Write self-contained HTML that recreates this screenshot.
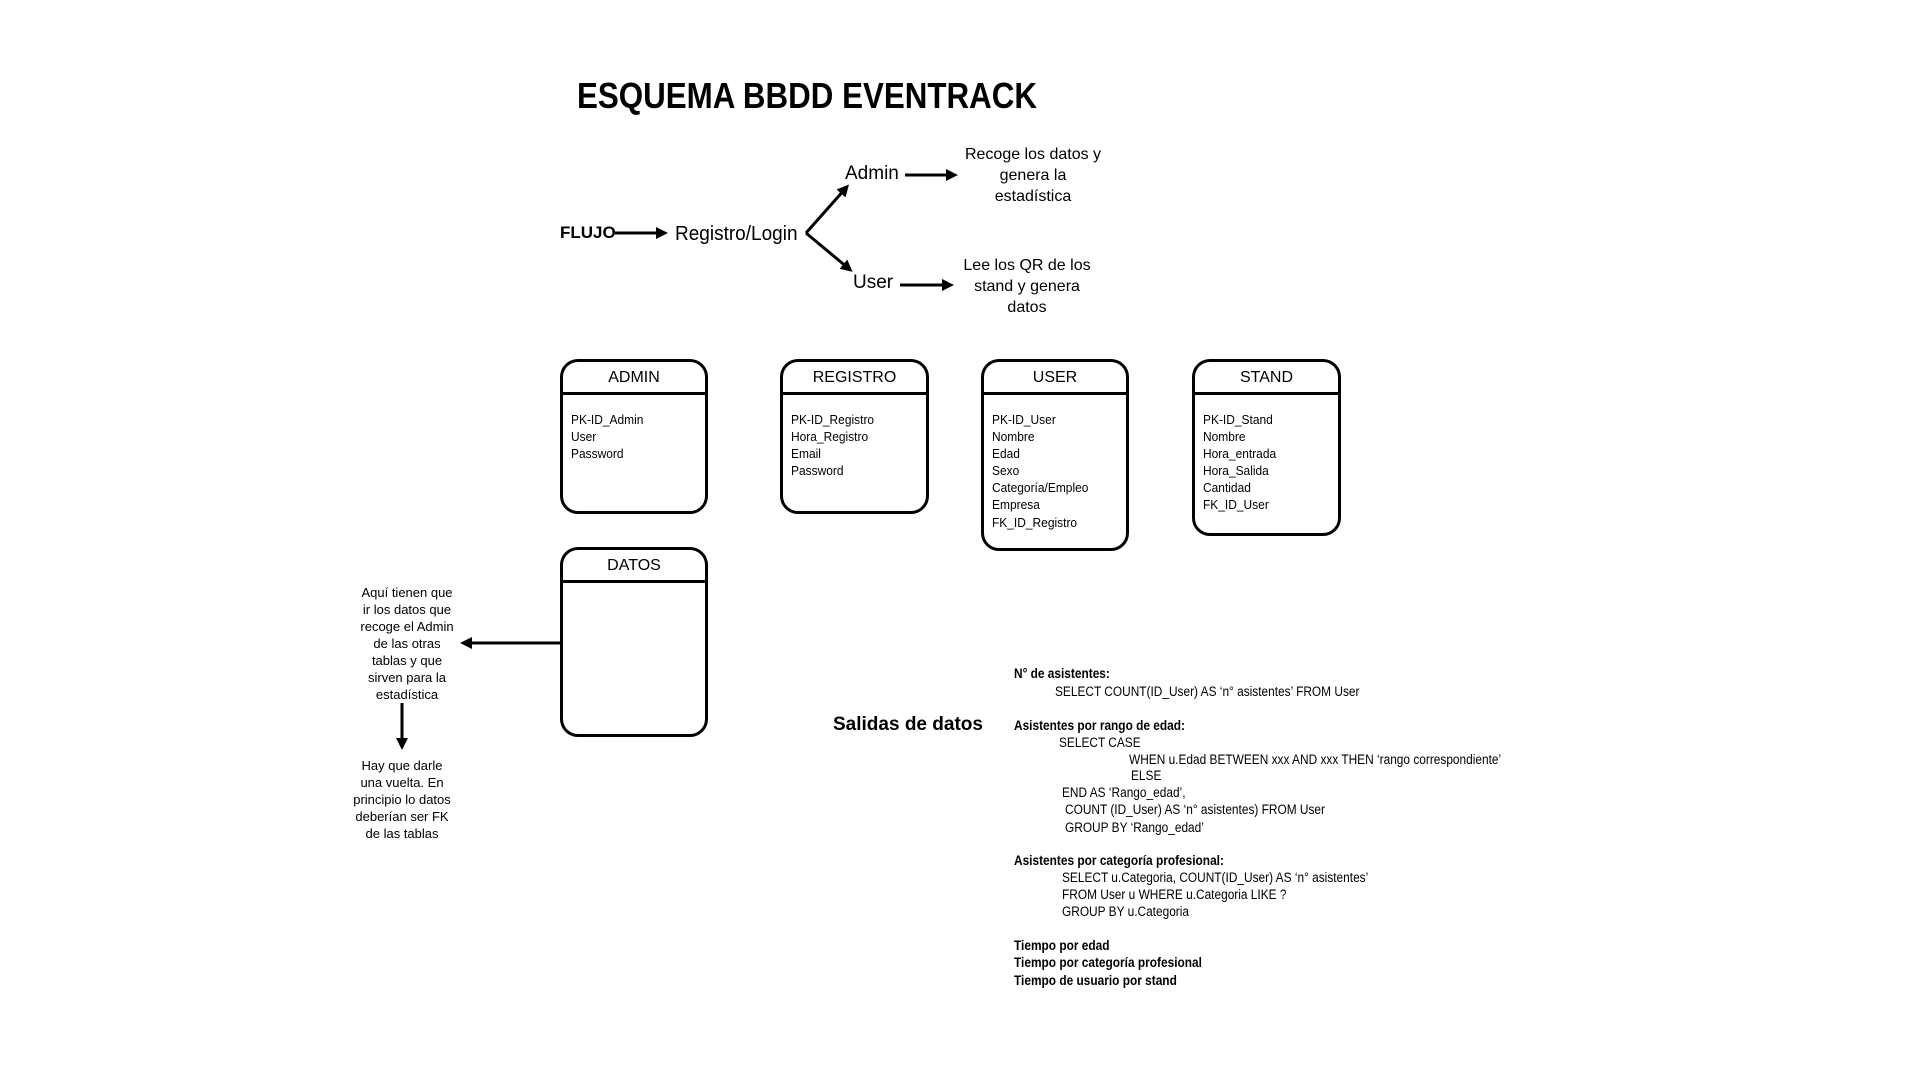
<!DOCTYPE html>
<html><head><meta charset="utf-8"><style>
body{margin:0;width:1920px;height:1080px;background:#fff;position:relative;overflow:hidden;font-family:"Liberation Sans",sans-serif;color:#000}
.t{position:absolute;white-space:nowrap;line-height:1}
.c{transform:translateX(-50%)}
.box{position:absolute;border:3px solid #000;border-radius:18px;box-sizing:border-box}
.box .h{position:absolute;left:0;right:0;top:0;height:30px;border-bottom:3px solid #000;font-size:16px;text-align:center;line-height:32px}
.box .r{position:absolute;left:8px;top:49px;font-size:13px;line-height:17.1px;transform-origin:left top;transform:scaleX(.92);white-space:nowrap}
.q{position:absolute;font-size:13.5px;white-space:nowrap;line-height:1;transform-origin:left center;transform:scaleX(.88)}
.b{font-weight:bold}
.n{position:absolute;font-size:13px;line-height:17px;text-align:center;transform:translateX(-50%)}
</style></head><body>
<div class="t b" style="left:577px;top:78px;font-size:36px;transform-origin:left top;transform:scaleX(.87)">ESQUEMA BBDD EVENTRACK</div>
<div class="t b" style="left:560px;top:224px;font-size:17px">FLUJO</div>
<div class="t" style="left:675px;top:224px;font-size:20px;transform-origin:left top;transform:scaleX(.95)">Registro/Login</div>
<div class="t" style="left:845px;top:164px;font-size:19px">Admin</div>
<div class="t" style="left:853px;top:273px;font-size:19px">User</div>
<div class="n" style="left:1033px;top:144px;font-size:16px;line-height:21px">Recoge los datos y<br>genera la<br>estadística</div>
<div class="n" style="left:1027px;top:255px;font-size:16px;line-height:21px">Lee los QR de los<br>stand y genera<br>datos</div>

<svg width="1920" height="1080" style="position:absolute;left:0;top:0">
<defs><marker id="a" markerWidth="4" markerHeight="4" refX="2" refY="2" orient="auto" markerUnits="strokeWidth"><path d="M0,0 L4,2 L0,4 z" fill="#000"/></marker></defs>
<g stroke="#000" stroke-width="3" fill="none">
<line x1="615" y1="233" x2="662" y2="233" marker-end="url(#a)"/>
<line x1="806" y1="233" x2="845" y2="189" marker-end="url(#a)"/>
<line x1="806" y1="233" x2="848" y2="268" marker-end="url(#a)"/>
<line x1="905" y1="175" x2="952" y2="175" marker-end="url(#a)"/>
<line x1="900" y1="285" x2="948" y2="285" marker-end="url(#a)"/>
<line x1="560" y1="643" x2="466" y2="643" marker-end="url(#a)"/>
<line x1="402" y1="703" x2="402" y2="744" marker-end="url(#a)"/>
</g></svg>

<div class="box" style="left:560px;top:359px;width:148px;height:155px"><div class="h">ADMIN</div><div class="r">PK-ID_Admin<br>User<br>Password</div></div>
<div class="box" style="left:780px;top:359px;width:149px;height:155px"><div class="h">REGISTRO</div><div class="r">PK-ID_Registro<br>Hora_Registro<br>Email<br>Password</div></div>
<div class="box" style="left:981px;top:359px;width:148px;height:192px"><div class="h">USER</div><div class="r">PK-ID_User<br>Nombre<br>Edad<br>Sexo<br>Categoría/Empleo<br>Empresa<br>FK_ID_Registro</div></div>
<div class="box" style="left:1192px;top:359px;width:149px;height:177px"><div class="h">STAND</div><div class="r">PK-ID_Stand<br>Nombre<br>Hora_entrada<br>Hora_Salida<br>Cantidad<br>FK_ID_User</div></div>
<div class="box" style="left:560px;top:547px;width:148px;height:190px"><div class="h">DATOS</div></div>

<div class="n" style="left:407px;top:584px">Aquí tienen que<br>ir los datos que<br>recoge el Admin<br>de las otras<br>tablas y que<br>sirven para la<br>estadística</div>
<div class="n" style="left:402px;top:757px">Hay que darle<br>una vuelta. En<br>principio lo datos<br>deberían ser FK<br>de las tablas</div>

<div class="t b" style="left:833px;top:715px;font-size:19px">Salidas de datos</div>

<div class="q b" style="left:1014px;top:667px">N° de asistentes:</div>
<div class="q" style="left:1055px;top:685px">SELECT COUNT(ID_User) AS ‘n° asistentes’ FROM User</div>
<div class="q b" style="left:1014px;top:719px">Asistentes por rango de edad:</div>
<div class="q" style="left:1059px;top:736px">SELECT CASE</div>
<div class="q" style="left:1129px;top:753px">WHEN u.Edad BETWEEN xxx AND xxx THEN ‘rango correspondiente’</div>
<div class="q" style="left:1131px;top:769px">ELSE</div>
<div class="q" style="left:1062px;top:786px">END AS ‘Rango_edad’,</div>
<div class="q" style="left:1065px;top:803px">COUNT (ID_User) AS ‘n° asistentes) FROM User</div>
<div class="q" style="left:1065px;top:821px">GROUP BY ‘Rango_edad’</div>
<div class="q b" style="left:1014px;top:854px">Asistentes por categoría profesional:</div>
<div class="q" style="left:1062px;top:871px">SELECT u.Categoria, COUNT(ID_User) AS ‘n° asistentes’</div>
<div class="q" style="left:1062px;top:888px">FROM User u WHERE u.Categoria LIKE ?</div>
<div class="q" style="left:1062px;top:905px">GROUP BY u.Categoria</div>
<div class="q b" style="left:1014px;top:939px">Tiempo por edad</div>
<div class="q b" style="left:1014px;top:956px">Tiempo por categoría profesional</div>
<div class="q b" style="left:1014px;top:974px">Tiempo de usuario por stand</div>
</body></html>
